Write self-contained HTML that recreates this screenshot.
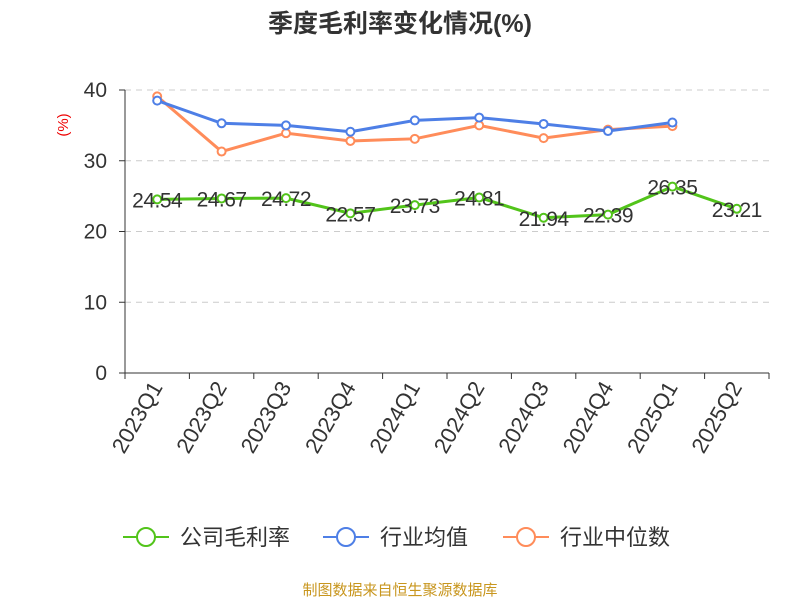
<!DOCTYPE html>
<html><head><meta charset="utf-8"><style>
body{margin:0;background:#fff;font-family:"Liberation Sans","Noto Sans CJK SC",sans-serif}
</style></head><body>
<svg width="800" height="600" xmlns="http://www.w3.org/2000/svg" font-family="Liberation Sans, Noto Sans CJK SC, sans-serif">
<text x="400" y="32" text-anchor="middle" font-size="25" font-weight="bold" fill="#333">季度毛利率变化情况(%)</text>
<text x="68" y="125" font-size="15" fill="#e00" transform="rotate(-90 68 125)" text-anchor="middle">(%)</text>
<g id="grid"></g><g id="axes"></g><g id="series"></g>
<g>
<g><line x1="123" y1="537" x2="169" y2="537" stroke="#52c41a" stroke-width="2"/><circle cx="146" cy="537" r="9" fill="#fff" stroke="#52c41a" stroke-width="2"/><text x="180" y="545" font-size="22" fill="#333">公司毛利率</text></g>
<g><line x1="323" y1="537" x2="369" y2="537" stroke="#4e7fe6" stroke-width="2"/><circle cx="346" cy="537" r="9" fill="#fff" stroke="#4e7fe6" stroke-width="2"/><text x="380" y="545" font-size="22" fill="#333">行业均值</text></g>
<g><line x1="503" y1="537" x2="549" y2="537" stroke="#ff8c5a" stroke-width="2"/><circle cx="526" cy="537" r="9" fill="#fff" stroke="#ff8c5a" stroke-width="2"/><text x="560" y="545" font-size="22" fill="#333">行业中位数</text></g>
</g>
<text x="400" y="595" text-anchor="middle" font-size="15" fill="#c8961e">制图数据来自恒生聚源数据库</text>
</svg>
<script>
const categories=["2023Q1","2023Q2","2023Q3","2023Q4","2024Q1","2024Q2","2024Q3","2024Q4","2025Q1","2025Q2"];
const companyValues=[24.54,24.67,24.72,22.57,23.73,24.81,21.94,22.39,26.35,23.21];
const industryAvg=[38.5,35.3,35.0,34.1,35.7,36.1,35.2,34.2,35.4];
const industryMedian=[39.1,31.3,33.9,32.8,33.1,35.0,33.2,34.4,34.9];
const yTicks=[0,10,20,30,40];
const NS="http://www.w3.org/2000/svg";
const x0=125,x1=769,yb=373,yt=90,ymax=40;
const bw=(x1-x0)/categories.length;
const X=i=>x0+bw*(i+0.5);
const Y=v=>yb-(v/ymax)*(yb-yt);
function mk(tag,attrs,parent){const e=document.createElementNS(NS,tag);for(const k in attrs)e.setAttribute(k,attrs[k]);parent.appendChild(e);return e;}
const grid=document.getElementById('grid'),axes=document.getElementById('axes'),ser=document.getElementById('series');
yTicks.forEach(t=>{
 if(t>0){const l=mk('line',{x1:x0,x2:x1,y1:Y(t),y2:Y(t),stroke:'#ccc','stroke-dasharray':'6,5'},grid);
 
 }
 const tx=mk('text',{x:x0-18,y:Y(t)+7,'text-anchor':'end','font-size':21,fill:'#333'},axes);tx.textContent=t;
 
 
 mk('line',{x1:x0-6,x2:x0,y1:Y(t),y2:Y(t),stroke:'#333'},axes);
});
mk('line',{x1:x0,x2:x0,y1:yt,y2:yb,stroke:'#333'},axes);
mk('line',{x1:x0,x2:x1,y1:yb,y2:yb,stroke:'#333'},axes);
for(let i=0;i<=categories.length;i++)mk('line',{x1:x0+bw*i,x2:x0+bw*i,y1:yb,y2:yb+6,stroke:'#333'},axes);
categories.forEach((c,i)=>{const t=mk('text',{x:X(i)+6,y:yb+14,'text-anchor':'end','font-size':22,fill:'#333',transform:`rotate(-60 ${X(i)+6} ${yb+14})`},axes);t.textContent=c;
 
 });
function series(vals,color,name,labels){
 const g=mk('g',{},ser);
 
 
 mk('polyline',{points:vals.map((v,i)=>X(i)+','+Y(v)).join(' '),fill:'none',stroke:color,'stroke-width':3},g);
 vals.forEach((v,i)=>{const c=mk('circle',{cx:X(i),cy:Y(v),r:4,fill:'#fff',stroke:color,'stroke-width':2},g);
  
  
  if(labels){const t=mk('text',{x:X(i),y:Y(v)+8,'text-anchor':'middle','font-size':21,'letter-spacing':'-0.5',fill:'#333'},g);t.textContent=v.toFixed(2);
   
   }});
}
series(industryMedian,'#ff8c5a','industry-median-series',false);
series(industryAvg,'#4e7fe6','industry-avg-series',false);
series(companyValues,'#52c41a','company-series',true);
</script>
</body></html>
